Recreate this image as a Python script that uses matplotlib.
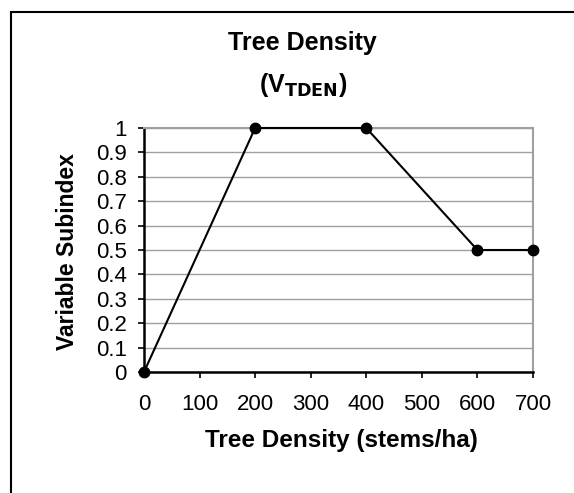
import matplotlib
matplotlib.use("Agg")
from matplotlib import pyplot as plt
from matplotlib.patches import Rectangle

# datos de la curva
densidad = [0, 200, 400, 600, 700]
subindice = [0, 1, 1, 0.5, 0.5]
x_ticks = [0, 100, 200, 300, 400, 500, 600, 700]
y_ticks = [0, 0.1, 0.2, 0.3, 0.4, 0.5, 0.6, 0.7, 0.8, 0.9, 1]

plt.rcParams["font.family"] = ["Liberation Sans", "DejaVu Sans"]

W, H = 574, 493
fig = plt.figure(figsize=(W / 100, H / 100), dpi=100)

# marco exterior
fig.patches.append(Rectangle((11 / W, -0.1), 1.2, 1 - 12 / H + 0.1,
                             transform=fig.transFigure, fill=False,
                             edgecolor="black", linewidth=1.5))

ax = fig.add_axes([144 / W, 1 - 372 / H, (533 - 144) / W, (372 - 128) / H])
ax.plot(densidad, subindice, color="black", lw=1.5, marker="o",
        markersize=7.5, clip_on=False, zorder=3)

ax.set_xlim(0, 700)
ax.set_ylim(0, 1)
ax.set_xticks(x_ticks)
ax.set_yticks(y_ticks)
ax.set_yticklabels([("%g" % v) for v in y_ticks])
ax.tick_params(labelsize=16, length=4.5, width=1.2, direction="out", color="black")
ax.tick_params(axis="y", pad=8)
ax.tick_params(axis="x", pad=11)
ax.grid(axis="y", color="#a0a0a0", lw=1)
ax.set_axisbelow(True)
for s in ["top", "right"]:
    ax.spines[s].set_color("#a0a0a0")
    ax.spines[s].set_linewidth(1.5)
for s in ["left", "bottom"]:
    ax.spines[s].set_color("black")
    ax.spines[s].set_linewidth(1.8)

fig.text(302 / W, 1 - 43 / H, "Tree Density", ha="center", va="center",
         fontsize=18, fontweight="bold")
fig.text(303 / W, 1 - 85 / H, r"(V$_{\mathbf{TDEN}}$)", ha="center", va="center",
         fontsize=18, fontweight="bold")
fig.text(341 / W, 1 - 440 / H, "Tree Density (stems/ha)", ha="center", va="center",
         fontsize=17.5, fontweight="bold")
fig.text(68 / W, 1 - 252 / H, "Variable Subindex", ha="center", va="center",
         fontsize=16.5, fontweight="bold", rotation=90)

fig.savefig("out.png", dpi=100)
